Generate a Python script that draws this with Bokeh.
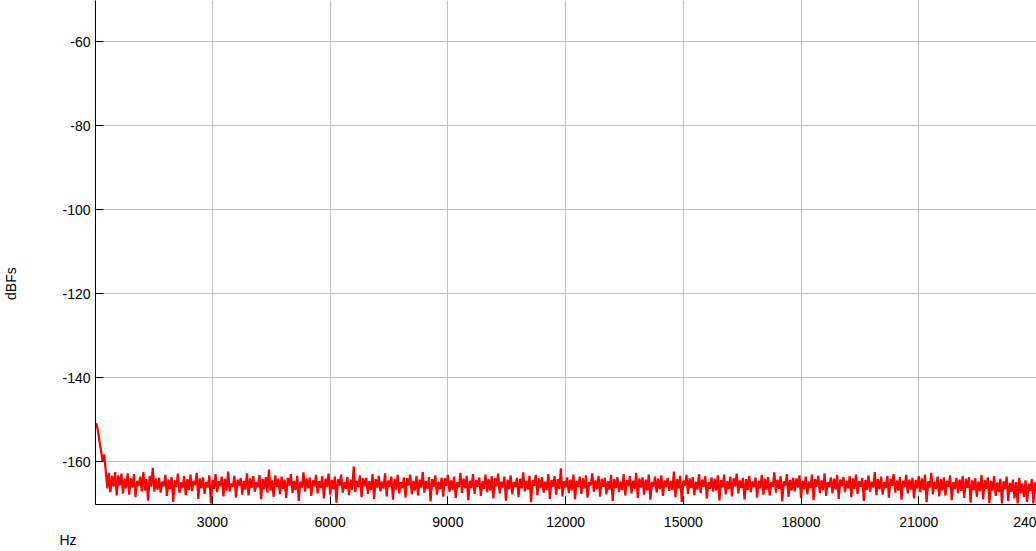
import numpy as np
from bokeh.plotting import figure
from bokeh.models import FixedTicker, Range1d, Title
from bokeh.embed import file_html
from bokeh.resources import INLINE

# spectrum bins (Hz): first bin and spacing
bin_start = 40
bin_step = 40

# level per bin (dBFs)
level = [
    -150.8,-152.6,-155.1,-157.4,-159.9,-158.3,-162.1,-166.4,-162.7,-167.3,-163.4,-166.0,-162.5,-168.1,-163.3,-165.7,-162.9,-167.6,-164.1,-166.4,
    -162.8,-167.9,-164.0,-166.2,-163.0,-168.5,-164.6,-165.8,-163.6,-167.1,-162.5,-166.9,-164.2,-169.3,-163.4,-166.0,-161.5,-167.2,-164.1,-166.7,
    -163.9,-167.4,-164.8,-165.9,-163.2,-168.2,-164.3,-166.6,-163.7,-169.6,-164.5,-166.1,-162.9,-167.5,-165.0,-166.3,-163.5,-168.0,-164.2,-166.8,
    -163.1,-167.0,-164.6,-165.6,-162.7,-168.9,-164.0,-166.4,-163.8,-167.7,-164.9,-166.2,-163.3,-170.0,-164.4,-166.5,-163.0,-167.3,-164.7,-165.9,
    -163.6,-168.3,-164.1,-166.9,-162.4,-167.1,-165.2,-166.0,-163.4,-168.6,-164.3,-165.8,-163.9,-167.9,-164.6,-166.7,-162.8,-168.1,-164.0,-166.3,
    -163.5,-167.2,-164.9,-166.1,-163.2,-169.0,-164.2,-166.6,-163.7,-167.4,-161.9,-166.9,-164.5,-168.4,-163.3,-166.0,-164.1,-167.8,-163.6,-166.5,
    -164.3,-168.7,-163.9,-165.7,-163.0,-167.5,-164.6,-166.8,-163.4,-169.4,-164.8,-166.2,-162.6,-167.2,-164.0,-166.4,-163.8,-168.2,-164.5,-165.9,
    -163.2,-167.6,-164.7,-166.3,-163.5,-168.8,-164.1,-166.0,-162.9,-167.9,-164.4,-166.6,-163.6,-169.8,-164.2,-165.8,-163.1,-167.4,-164.9,-166.5,
    -163.7,-168.0,-164.3,-166.7,-161.2,-167.3,-164.6,-166.1,-163.3,-168.5,-164.0,-165.9,-163.9,-167.7,-164.7,-166.8,-163.0,-168.9,-164.2,-166.2,
    -163.4,-167.1,-164.8,-166.4,-162.8,-168.3,-164.5,-166.0,-163.6,-169.1,-164.1,-166.7,-163.2,-167.6,-164.9,-166.3,-163.8,-168.6,-164.0,-165.7,
    -163.1,-167.8,-164.6,-166.9,-163.5,-168.1,-164.3,-166.2,-162.5,-167.4,-164.7,-166.5,-163.7,-169.5,-164.2,-166.0,-163.3,-167.9,-164.8,-166.6,
    -163.9,-168.4,-164.0,-165.8,-163.2,-167.2,-164.5,-166.8,-163.6,-168.7,-164.9,-166.1,-162.7,-167.5,-164.1,-166.4,-163.4,-169.2,-164.6,-166.3,
    -163.0,-167.7,-164.4,-166.0,-163.8,-168.2,-164.7,-166.5,-163.1,-167.3,-164.2,-166.9,-163.5,-168.8,-164.0,-165.9,-162.9,-167.6,-164.8,-166.2,
    -163.6,-169.3,-164.3,-166.6,-163.3,-167.8,-164.9,-166.1,-163.9,-168.5,-164.1,-166.4,-162.6,-167.1,-164.6,-166.7,-163.4,-169.7,-164.5,-165.8,
    -163.2,-168.0,-164.0,-166.3,-163.7,-167.4,-164.8,-166.8,-163.0,-168.9,-164.4,-166.0,-163.5,-167.9,-164.2,-166.5,-161.6,-168.3,-164.7,-166.2,
    -163.8,-167.5,-164.3,-166.9,-163.1,-169.0,-164.6,-166.1,-163.6,-167.7,-164.0,-166.4,-163.3,-168.6,-164.9,-165.7,-162.8,-167.2,-164.5,-166.6,
    -163.4,-168.4,-164.1,-166.0,-163.9,-167.8,-164.7,-166.7,-163.2,-169.4,-164.2,-166.3,-163.7,-167.3,-164.8,-166.8,-163.0,-168.1,-164.4,-165.9,
    -163.5,-167.6,-164.6,-166.5,-162.7,-168.7,-164.0,-166.2,-163.8,-167.9,-164.3,-166.9,-163.1,-169.1,-164.9,-166.0,-163.6,-167.4,-164.1,-166.6,
    -163.3,-168.2,-164.5,-166.1,-163.9,-167.0,-164.7,-166.8,-162.4,-168.5,-164.2,-166.4,-163.4,-169.6,-164.6,-165.8,-163.2,-167.7,-164.0,-166.3,
    -163.7,-168.0,-164.8,-166.7,-163.0,-167.5,-164.3,-166.0,-163.5,-168.8,-164.9,-166.5,-163.8,-167.2,-164.1,-166.9,-163.3,-169.3,-164.4,-166.2,
    -163.1,-167.8,-164.7,-166.6,-163.6,-168.3,-164.0,-165.9,-162.9,-167.6,-164.5,-166.3,-163.9,-169.0,-164.2,-166.8,-163.4,-167.3,-164.8,-166.1,
    -163.8,-168.6,-164.6,-166.4,-163.2,-167.9,-164.1,-166.7,-163.7,-168.1,-164.9,-166.0,-162.6,-167.4,-164.3,-166.5,-163.5,-169.5,-164.7,-165.8,
    -163.0,-168.4,-164.4,-166.9,-163.9,-167.1,-164.0,-166.2,-163.3,-168.7,-164.6,-166.6,-163.6,-167.8,-164.8,-166.3,-163.1,-169.2,-164.2,-166.0,
    -163.4,-167.5,-164.5,-166.8,-162.8,-168.2,-164.9,-166.1,-163.8,-167.6,-164.1,-166.7,-163.2,-168.9,-164.3,-165.9,-163.7,-167.3,-164.6,-166.4,
    -163.5,-168.5,-164.0,-166.5,-163.1,-167.7,-164.7,-166.0,-163.9,-169.4,-164.4,-166.8,-163.3,-167.2,-164.8,-166.2,-162.5,-168.0,-164.2,-166.6,
    -163.6,-167.9,-164.9,-166.3,-163.4,-168.6,-164.1,-165.8,-163.0,-167.4,-164.5,-166.9,-163.7,-169.1,-164.6,-166.1,-163.2,-167.6,-164.3,-166.7,
    -163.9,-168.8,-164.4,-166.4,-163.5,-167.3,-164.0,-166.8,-163.1,-169.7,-164.7,-166.2,-162.7,-167.8,-164.8,-166.5,-163.6,-168.3,-164.2,-166.9,
    -163.8,-168.1,-164.6,-166.0,-163.3,-169.2,-164.9,-166.6,-163.9,-167.5,-164.3,-167.0,-163.4,-168.7,-164.1,-166.3,-163.7,-169.8,-164.5,-166.8,
    -164.0,-168.4,-164.8,-167.1,-163.2,-169.0,-164.4,-166.5,-163.8,-169.9,-164.6,-166.9,-163.5,-168.2,-165.0,-167.3,-164.1,-170.0,-164.7,-166.6,
    -163.6,-169.4,-165.1,-167.2,-164.3,-168.8,-164.9,-170.0,-163.9,-167.6,-165.2,-168.5,-164.5,-169.6,-165.3,-167.0,-164.2,-170.0,-165.0,-167.8,
]

x_ticks = [3000, 6000, 9000, 12000, 15000, 18000, 21000, 24000]
# tick labels as seen (the last one is cut by the right edge of the picture)
x_tick_labels = ["3000", "6000", "9000", "12000", "15000", "18000", "21000", "240"]
y_ticks = [-160, -140, -120, -100, -80, -60]
x_label = "Hz"
y_label = "dBFs"

freq = bin_start + bin_step * np.arange(len(level))

FONT = "Liberation Sans"
NBSP = "\u00a0"

p = figure(width=1036, height=551, output_backend="svg", toolbar_location=None,
           x_range=Range1d(20, 24000.5), y_range=Range1d(-170.24, -50.16),
           min_border_left=93, min_border_right=0, min_border_top=0, min_border_bottom=47)
p.outline_line_color = None
p.background_fill_color = "white"
p.border_fill_color = "white"

p.line(freq, level, line_color="#ff0000", line_width=2.2)

for ax in (p.xaxis[0], p.yaxis[0]):
    ax.axis_line_color = "black"
    ax.axis_line_width = 1
    ax.major_tick_in = 8
    ax.major_tick_out = 0
    ax.minor_tick_in = 0
    ax.minor_tick_out = 0
    ax.major_tick_line_color = "black"
    ax.major_label_text_font = FONT
    ax.major_label_text_font_size = "14px"
    ax.major_label_text_color = "black"

p.xaxis.ticker = FixedTicker(ticks=x_ticks)
p.yaxis.ticker = FixedTicker(ticks=y_ticks)
p.xaxis.major_label_overrides = dict(zip(x_ticks, x_tick_labels))
p.yaxis.major_label_overrides = {t: str(t) for t in y_ticks}
p.xaxis.major_label_standoff = 12
p.yaxis.major_label_standoff = 5

# y axis title, moved down along the axis with trailing non-breaking spaces
p.yaxis.axis_label = y_label + NBSP * 16
p.yaxis.axis_label_text_font = FONT
p.yaxis.axis_label_text_font_size = "14px"
p.yaxis.axis_label_text_font_style = "normal"
p.yaxis.axis_label_text_color = "black"
p.yaxis.axis_label_standoff = 40

p.xgrid.ticker = FixedTicker(ticks=x_ticks)
p.ygrid.ticker = FixedTicker(ticks=y_ticks)
p.grid.grid_line_color = "#c0c0c0"
p.grid.grid_line_width = 1

p.add_layout(Title(text=x_label, align="left", offset=-36, vertical_align="bottom",
                   standoff=0, text_font=FONT, text_font_size="14px",
                   text_font_style="normal", text_color="black"), "below")

open("out.html", "w").write(file_html(p, INLINE))
